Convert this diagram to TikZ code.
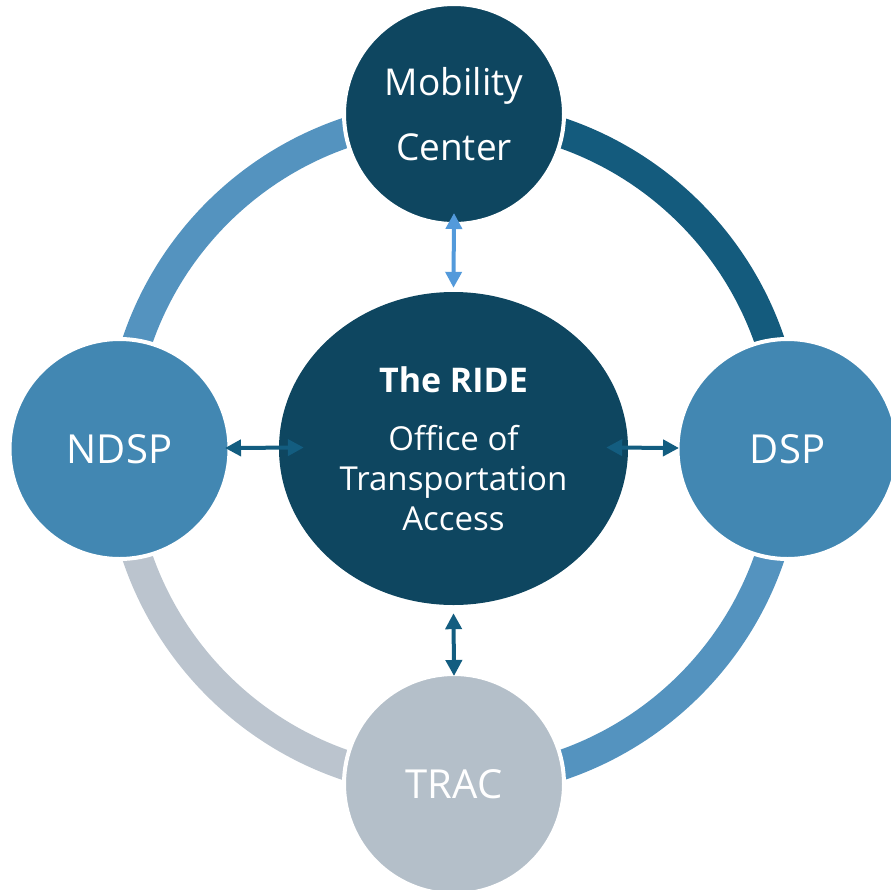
\documentclass[tikz,border=0pt]{standalone}
\usepackage{fontspec}
\setmainfont{Open Sans}
\usetikzlibrary{shapes.geometric,arrows.meta,calc}
\definecolor{darkblue}{HTML}{0E4660}
\definecolor{midblue}{HTML}{4287B2}
\definecolor{graybl}{HTML}{B4BFC9}
\definecolor{arclight}{HTML}{5493BF}
\definecolor{arcdark}{HTML}{145B7D}
\definecolor{arcgray}{HTML}{BBC4CE}
\definecolor{arrowlight}{HTML}{539ADB}
\definecolor{arrowdark}{HTML}{135D80}
\tikzset{
  ring/.style={line width=30pt},
  bubble/.style={circle, minimum size=220pt, inner sep=0pt, draw=white, line width=4pt, text=white, align=center},
  hub/.style={ellipse, minimum width=349pt, minimum height=313pt, inner sep=0pt, fill=darkblue, text=white, align=center},
  link/.style={line width=4pt, {Triangle[length=16pt,width=16pt]}-{Triangle[length=16pt,width=16pt]}},
}
\begin{document}
\begin{tikzpicture}[x=1pt,y=-1pt]
\useasboundingbox (0,0) rectangle (891,889);
\clip (0,0) rectangle (891,889);
\coordinate (o) at (453.5,449);
% ring arcs
\draw[ring, arcdark]  ($(o)+(334,0)$) arc[start angle=0, end angle=-90, radius=334];
\draw[ring, arclight] ($(o)+(0,-334)$) arc[start angle=-90, end angle=-180, radius=334];
\draw[ring, arcgray]  ($(o)+(-334,0)$) arc[start angle=180, end angle=90, radius=334];
\draw[ring, arclight] ($(o)+(0,334)$) arc[start angle=90, end angle=0, radius=334];
% nodes
\node[bubble, fill=darkblue, font=\fontsize{37}{65}\selectfont] (mob) at (454,114) {Mobility\\Center};
\node[bubble, fill=midblue, font=\fontsize{40}{48}\selectfont] (ndsp) at (119.5,449) {NDSP};
\node[bubble, fill=midblue, font=\fontsize{40}{48}\selectfont] (dsp) at (787.5,449) {DSP};
\node[bubble, fill=graybl, font=\fontsize{40}{48}\selectfont] (trac) at (454,784) {TRAC};
\node[hub, font=\fontsize{33}{40}\selectfont] (ride) at (453.5,448.5) {{\fontsize{34}{40}\selectfont\bfseries The RIDE}\\[18pt]Office of\\Transportation\\Access};
% connectors
\draw[link, arrowlight] ($(mob.south)+(0,-13)$) -- ($(ride.north)+(0,-4)$);
\draw[link, arrowdark] ($(ndsp.east)+(-6.5,-1)$) -- ($(ride.west)+(25,-1)$);
\draw[link, arrowdark] ($(ride.east)+(-22,-1)$) -- ($(dsp.west)+(3.5,-1)$);
\draw[link, arrowdark] ($(ride.south)+(0,8)$) -- ($(trac.north)+(0,4)$);
\end{tikzpicture}
\end{document}
